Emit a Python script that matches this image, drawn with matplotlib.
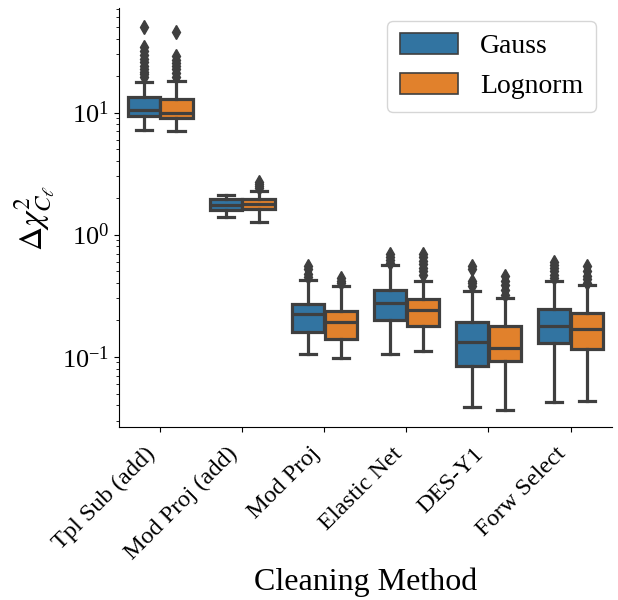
import matplotlib
matplotlib.use('Agg')
import matplotlib.pyplot as plt
from matplotlib.patches import Patch
import numpy as np

plt.rcParams['font.family'] = ['Liberation Serif', 'DejaVu Serif']
plt.rcParams['mathtext.fontset'] = 'stix'
plt.rcParams['axes.unicode_minus'] = False

# box statistics
methods = ['Tpl Sub (add)', 'Mod Proj (add)', 'Mod Proj', 'Elastic Net', 'DES-Y1', 'Forw Select']
hues = ['Gauss', 'Lognorm']

gauss_med = [10.4, 1.76, 0.226, 0.275, 0.133, 0.177]
gauss_q1 = [9.4, 1.58, 0.161, 0.200, 0.084, 0.129]
gauss_q3 = [13.5, 1.95, 0.269, 0.354, 0.191, 0.247]
gauss_lo = [7.2, 1.40, 0.105, 0.106, 0.0385, 0.0427]
gauss_hi = [17.7, 2.11, 0.428, 0.569, 0.343, 0.42]
gauss_fliers = [[19.5, 20.5, 21.5, 22.5, 24, 25.7, 27.5, 29.4, 32, 34.4, 50],
                [],
                [0.45, 0.48, 0.52, 0.55],
                [0.59, 0.62, 0.65, 0.69],
                [0.38, 0.40, 0.42, 0.52, 0.55],
                [0.44, 0.47, 0.50, 0.53, 0.56, 0.60]]

lognorm_med = [10.0, 1.77, 0.194, 0.242, 0.1186, 0.169]
lognorm_q1 = [8.98, 1.61, 0.140, 0.177, 0.0923, 0.1157]
lognorm_q3 = [12.8, 1.97, 0.238, 0.298, 0.177, 0.230]
lognorm_lo = [7.0, 1.27, 0.0968, 0.112, 0.0364, 0.0432]
lognorm_hi = [18.2, 2.28, 0.382, 0.42, 0.302, 0.384]
lognorm_fliers = [[19.5, 21, 22.5, 24, 25.5, 27, 29, 45.8],
                  [2.4, 2.5, 2.6, 2.7],
                  [0.40, 0.42, 0.44],
                  [0.47, 0.50, 0.53, 0.57, 0.61, 0.65, 0.69],
                  [0.32, 0.35, 0.39, 0.42, 0.46],
                  [0.40, 0.43, 0.46, 0.50, 0.55]]

colors = ['#3274a1', '#e1812c']
gray = '#3f3f3f'


def make_stats(med, q1, q3, lo, hi, fliers):
    return [dict(med=med[i], q1=q1[i], q3=q3[i], whislo=lo[i], whishi=hi[i],
                 fliers=fliers[i]) for i in range(len(med))]


stats = [make_stats(gauss_med, gauss_q1, gauss_q3, gauss_lo, gauss_hi, gauss_fliers),
         make_stats(lognorm_med, lognorm_q1, lognorm_q3, lognorm_lo, lognorm_hi, lognorm_fliers)]

fig = plt.figure(figsize=(6.18, 6.0), dpi=100)
ax = fig.add_axes([0.1926, 0.288, 0.797, 0.699])

x = np.arange(len(methods))
bw = 0.4 * 0.98
lw = 2.3
for j, st in enumerate(stats):
    pos = x - 0.2 + 0.4 * j
    ax.bxp(st, positions=pos, widths=bw, capwidths=bw / 2, patch_artist=True,
           boxprops=dict(facecolor=colors[j], edgecolor=gray, linewidth=lw),
           medianprops=dict(color=gray, linewidth=lw),
           whiskerprops=dict(color=gray, linewidth=lw),
           capprops=dict(color=gray, linewidth=lw),
           flierprops=dict(marker='d', markerfacecolor=gray, markeredgecolor=gray,
                           markersize=7, linestyle='none'),
           manage_ticks=False)

ax.set_yscale('log')
ax.set_ylim(0.0265, 72)
ax.set_xlim(-0.5, 5.5)
ax.set_xticks(x)
ax.set_xticklabels(methods, rotation=45, ha='right', fontsize=17.5)
ax.tick_params(axis='x', pad=8)
ax.tick_params(axis='y', labelsize=19)
ax.spines['top'].set_visible(False)
ax.spines['right'].set_visible(False)

ax.set_xlabel('Cleaning Method', fontsize=23)
ax.xaxis.set_label_coords(0.5, -0.335)
ax.set_ylabel(r'$\Delta\chi^2_{C_\ell}$', fontsize=24)

handles = [Patch(facecolor=colors[j], edgecolor=gray, linewidth=1.2, label=hues[j]) for j in range(2)]
ax.legend(handles=handles, loc='upper right', bbox_to_anchor=(596 / 618, 1 - 21 / 600),
          bbox_transform=fig.transFigure, borderaxespad=0, fontsize=20,
          handlelength=2.1, handleheight=0.75, borderpad=0.45, labelspacing=0.5)

fig.savefig('out.png', dpi=100)
